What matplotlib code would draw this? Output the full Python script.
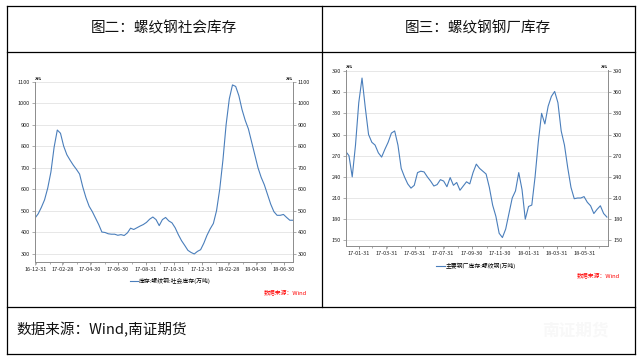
import numpy as np
import pandas as pd
import matplotlib
matplotlib.use("Agg")
import matplotlib.pyplot as plt
import matplotlib.dates as mdates
from matplotlib.lines import Line2D

plt.rcParams['font.family'] = ['Noto Sans CJK SC', 'DejaVu Sans']

# ---- data ----
titulo_izq = "图二：螺纹钢社会库存"
titulo_der = "图三：螺纹钢钢厂库存"
fuente = "数据来源：Wind,南证期货"

# social inventory, weekly from 2016-12-30
social_start = "2016-12-30"
social_vals = [465, 485, 515, 550, 605, 680, 795, 875, 860, 800,
               760, 735, 712, 692, 670, 610, 560, 520, 495, 465,
               435, 400, 398, 392, 390, 390, 385, 388, 384, 396,
               418, 412, 420, 428, 435, 445, 460, 470, 458, 430,
               458, 468, 452, 443, 420, 388, 360, 338, 315, 305,
               298, 310, 318, 348, 385, 415, 440, 500, 600, 735,
               900, 1020, 1085, 1078, 1035, 970, 920, 880, 820, 760,
               700, 655, 620, 575, 530, 495, 478, 478, 482, 468,
               455, 455]
social_ticks = ["2016-12-31", "2017-02-28", "2017-04-30", "2017-06-30", "2017-08-31",
                "2017-10-31", "2017-12-31", "2018-02-28", "2018-04-30", "2018-06-30"]
social_yticks = [300, 400, 500, 600, 700, 800, 900, 1000, 1100]

# mill inventory, weekly from 2017-01-03
mill_start = "2017-01-03"
mill_vals = [276, 270, 240, 285, 345, 380, 338, 300, 289, 285,
             274, 268, 279, 289, 302, 305, 285, 252, 240, 230,
             224, 228, 246, 248, 247, 240, 234, 227, 229, 236,
             234, 226, 239, 228, 232, 221, 227, 233, 230, 246,
             258, 252, 248, 244, 225, 200, 184, 160, 154, 166,
             188, 210, 220, 246, 222, 180, 198, 200, 240, 290,
             330, 315, 340, 354, 361, 345, 305, 285, 253, 225,
             209, 210, 210, 212, 204, 199, 188, 194, 199, 188,
             183]
mill_ticks = ["2017-01-31", "2017-03-31", "2017-05-31", "2017-07-31", "2017-09-30",
              "2017-11-30", "2018-01-31", "2018-03-31", "2018-05-31"]
mill_yticks = [150, 180, 210, 240, 270, 300, 330, 360, 390]

leyenda_izq = "库存:螺纹钢:社会库存(万吨)"
leyenda_der = "主要钢厂库存:螺纹钢(万吨)"

azul = '#4a7ebb'
gris = '#8c8c8c'


def panel(ax, fechas, valores, ticks, yticks, ylim, xlim):
    ax.plot(fechas, valores, color=azul, linewidth=0.8)
    ax.set_xlim(pd.Timestamp(xlim[0]), pd.Timestamp(xlim[1]))
    ax.set_ylim(*ylim)
    ax.set_yticks(yticks)
    ax.set_yticklabels([str(v) for v in yticks])
    tk = pd.to_datetime(ticks)
    ax.set_xticks(tk)
    ax.set_xticklabels([t.strftime('%y-%m-%d') for t in tk])
    ax.xaxis.set_minor_locator(mdates.MonthLocator(bymonthday=1))
    ax.tick_params(axis='both', which='both', labelsize=4, colors='#222222',
                   length=2, width=0.5, pad=1.5)
    ax.tick_params(axis='y', right=True, labelright=True, color=gris)
    ax.tick_params(axis='x', which='both', color=gris)
    ax.tick_params(axis='x', which='minor', length=1.5)
    ax.grid(axis='y', color='#e3e3e3', linewidth=0.6)
    ax.set_axisbelow(True)
    for s in ['left', 'bottom', 'right']:
        ax.spines[s].set_color(gris)
        ax.spines[s].set_linewidth(0.7)
    ax.spines['top'].set_visible(False)


fig = plt.figure(figsize=(6.39, 3.62), dpi=100)
W, H = 639.0, 362.0

def fx(x):
    return x / W

def fy(y):
    return 1 - y / H

# table borders
borde = dict(color='black', linewidth=0.9, transform=fig.transFigure)
fig.add_artist(Line2D([fx(7), fx(635)], [fy(5.5), fy(5.5)], **borde))
fig.add_artist(Line2D([fx(7), fx(635)], [fy(52), fy(52)], **borde))
fig.add_artist(Line2D([fx(7), fx(635)], [fy(306.5), fy(306.5)], **borde))
fig.add_artist(Line2D([fx(7), fx(635)], [fy(354), fy(354)], **borde))
fig.add_artist(Line2D([fx(7.3), fx(7.3)], [fy(5.5), fy(354)], **borde))
fig.add_artist(Line2D([fx(634.5), fx(634.5)], [fy(5.5), fy(354)], **borde))
fig.add_artist(Line2D([fx(321.5), fx(321.5)], [fy(5.5), fy(306.5)], **borde))

fig.text(fx(164), fy(28.5), titulo_izq, ha='center', va='center', fontsize=10.5, color='#111111')
fig.text(fx(478), fy(28.5), titulo_der, ha='center', va='center', fontsize=10.5, color='#111111')
fig.text(fx(16), fy(330), fuente, ha='left', va='center', fontsize=10.5, color='#111111')
fig.text(fx(575), fy(330), "南证期货", ha='center', va='center', fontsize=12,
         color='#f8f8f8', fontweight='bold')

# left chart
ax1 = fig.add_axes([fx(35), fy(261.7), fx(293 - 35), (261.7 - 81.7) / H])
f1 = pd.date_range(social_start, periods=len(social_vals), freq='7D')
panel(ax1, f1, social_vals, social_ticks, social_yticks, (262, 1100),
      ("2016-12-30", f1[-1]))
ax1.text(0.0, 1.005, "万吨", transform=ax1.transAxes, fontsize=2.5, ha='left', va='bottom')
ax1.text(1.0, 1.005, "万吨", transform=ax1.transAxes, fontsize=2.5, ha='right', va='bottom')
fig.add_artist(Line2D([fx(130), fx(138)], [fy(281), fy(281)], color=azul, linewidth=0.8,
                      transform=fig.transFigure))
fig.text(fx(139), fy(281), leyenda_izq, fontsize=4.2, ha='left', va='center', color='black')
fig.text(fx(307), fy(292), "数据来源：Wind", fontsize=4.2, ha='right', va='center',
         color='red', style='italic')

# right chart
ax2 = fig.add_axes([fx(345.7), fy(246), fx(608.3 - 345.7), (246 - 70) / H])
f2 = pd.date_range(mill_start, periods=len(mill_vals), freq='7D')
panel(ax2, f2, mill_vals, mill_ticks, mill_yticks, (142, 391.4),
      (mill_start, "2018-07-20"))
ax2.text(0.0, 1.005, "万吨", transform=ax2.transAxes, fontsize=2.5, ha='left', va='bottom')
ax2.text(1.0, 1.005, "万吨", transform=ax2.transAxes, fontsize=2.5, ha='right', va='bottom')
fig.add_artist(Line2D([fx(436), fx(445)], [fy(265.7), fy(265.7)], color=azul, linewidth=0.8,
                      transform=fig.transFigure))
fig.text(fx(446), fy(265.7), leyenda_der, fontsize=4.2, ha='left', va='center', color='black')
fig.text(fx(620), fy(275.7), "数据来源：Wind", fontsize=4.2, ha='right', va='center',
         color='red', style='italic')

fig.savefig("out.png", dpi=100)
